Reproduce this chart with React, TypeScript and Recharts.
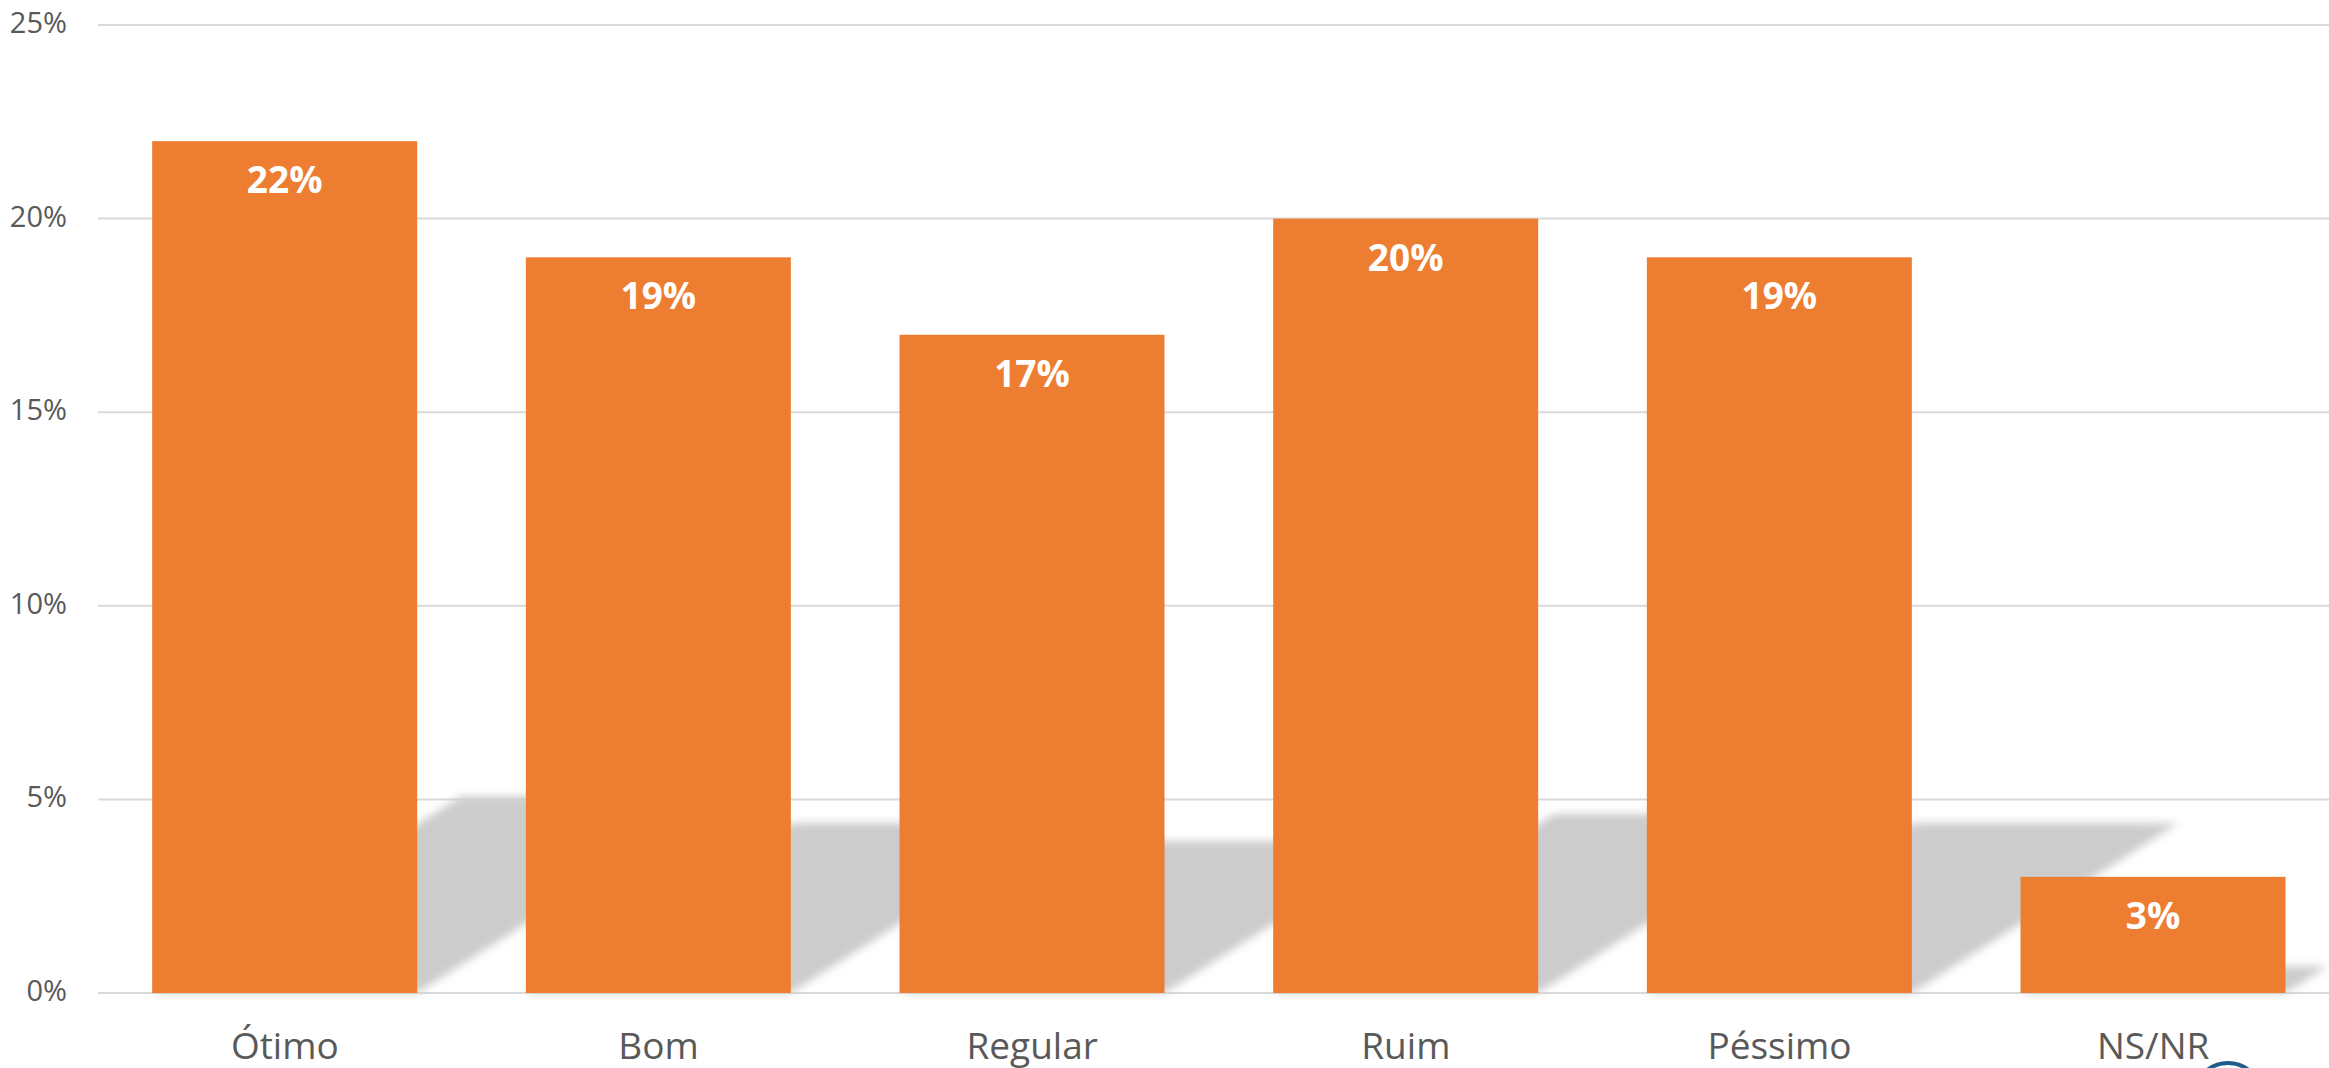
import React from "react";
import { BarChart, Bar, XAxis, YAxis, CartesianGrid, LabelList } from "recharts";

const categories = ["Ótimo", "Bom", "Regular", "Ruim", "Péssimo", "NS/NR"];
const values = [22, 19, 17, 20, 19, 3];
const yTicks = [0, 5, 10, 15, 20, 25];

const data = categories.map((c, i) => ({ name: c, value: values[i] }));

const ORANGE = "#ED7D31";
const GREY_TEXT = "#595959";
const FONT = "'Open Sans', 'DejaVu Sans', sans-serif";

const ShadowBar = (props: any) => {
  const { x, y, width, height } = props;
  if (height <= 0) return null;
  const bottom = y + height;
  const sh = height * 0.231;
  const d = sh * 1.57;
  const top = bottom - sh;
  const pts = `${x},${bottom} ${x + width},${bottom} ${x + width + d},${top} ${x + d},${top}`;
  return (
    <g>
      <polygon points={pts} fill="#cccccc" style={{ filter: "blur(4px)" }} />
      <rect x={x} y={y} width={width} height={height} fill={ORANGE} />
    </g>
  );
};

const ValueLabel = (props: any) => {
  const { x, y, width, value } = props;
  return (
    <text
      x={x + width / 2}
      y={y + 52}
      textAnchor="middle"
      fill="#ffffff"
      fontFamily={FONT}
      fontWeight={700}
      fontSize={37}
    >
      {`${value}%`}
    </text>
  );
};

const XTick = (props: any) => {
  const { x, payload } = props;
  return (
    <text x={x} y={1059} textAnchor="middle" fill={GREY_TEXT} fontFamily={FONT} fontSize={37}>
      {payload.value}
    </text>
  );
};

const YTick = (props: any) => {
  const { y, payload } = props;
  return (
    <text x={67} y={y + 8} textAnchor="end" fill={GREY_TEXT} fontFamily={FONT} fontSize={29}>
      {`${payload.value}%`}
    </text>
  );
};

export default function App() {
  return (
    <div
      style={{
        position: "fixed",
        left: 0,
        top: 0,
        width: 2329,
        height: 1068,
        overflow: "hidden",
        background: "#ffffff",
      }}
    >
      <BarChart
        width={2345}
        height={1068}
        data={data}
        margin={{ top: 25, right: 5, left: 0, bottom: 0 }}
        barCategoryGap="14.5%"
      >
        <CartesianGrid vertical={false} stroke="#d9d9d9" strokeWidth={2} />
        <XAxis
          dataKey="name"
          height={75}
          axisLine={false}
          tickLine={false}
          tickSize={0}
          tickMargin={0}
          tick={<XTick />}
          interval={0}
        />
        <YAxis
          width={98}
          domain={[0, 25]}
          ticks={yTicks}
          axisLine={false}
          tickLine={false}
          tick={<YTick />}
        />
        <Bar dataKey="value" shape={<ShadowBar />} isAnimationActive={false}>
          <LabelList dataKey="value" content={<ValueLabel />} />
        </Bar>
      </BarChart>
      <div
        style={{
          position: "absolute",
          left: 2192,
          top: 1061,
          width: 72,
          height: 72,
          borderRadius: "50%",
          border: "4px solid #1f5c8b",
          boxSizing: "border-box",
        }}
      />
    </div>
  );
}
